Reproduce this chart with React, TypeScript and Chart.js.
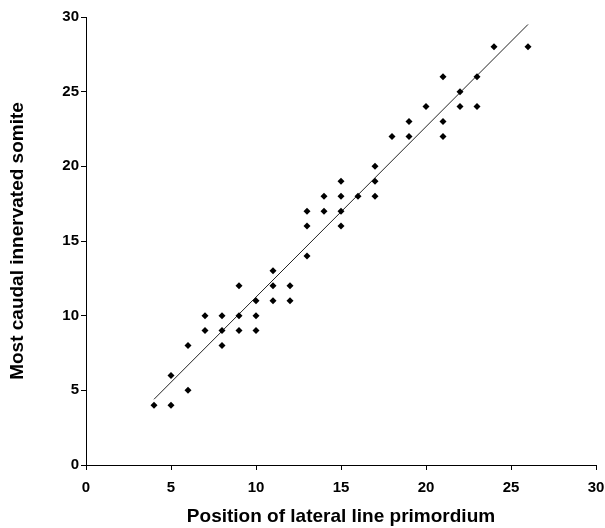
import React, { useEffect, useRef } from "react";
import { Chart, registerables } from "chart.js";

Chart.register(...registerables);

const xValues = [4, 5, 5, 6, 6, 7, 7, 8, 8, 8, 9, 9, 9, 10, 10, 10, 11, 11, 11, 12, 12, 13, 13, 13, 14, 14, 15, 15, 15, 15, 16, 17, 17, 17, 18, 19, 19, 20, 21, 21, 21, 22, 22, 23, 23, 24, 26];
const yValues = [4, 4, 6, 5, 8, 9, 10, 9, 10, 8, 12, 10, 9, 11, 10, 9, 13, 12, 11, 12, 11, 14, 16, 17, 17, 18, 19, 18, 17, 16, 18, 20, 19, 18, 22, 23, 22, 24, 26, 23, 22, 25, 24, 26, 24, 28, 28];
const fitX = [4, 26];
const fitY = [4.4, 29.5];
const xTitle = "Position of lateral line primordium";
const yTitle = "Most caudal innervated somite";

export default function App() {
  const ref = useRef<HTMLCanvasElement | null>(null);
  useEffect(() => {
    if (!ref.current) return;
    const font = "'Liberation Sans', Arial, sans-serif";
    const chart = new Chart(ref.current, {
      type: "scatter",
      data: {
        datasets: [
          {
            label: "points",
            data: xValues.map((x, i) => ({ x, y: yValues[i] })),
            pointStyle: "rectRot",
            pointRadius: 3.5,
            backgroundColor: "#000",
            borderColor: "#000",
            borderWidth: 0,
            showLine: false,
          },
          {
            label: "fit",
            data: fitX.map((x, i) => ({ x, y: fitY[i] })),
            showLine: true,
            pointRadius: 0,
            borderColor: "#222",
            borderWidth: 1,
          },
        ],
      },
      options: {
        animation: false,
        responsive: false,
        maintainAspectRatio: false,
        plugins: { legend: { display: false }, tooltip: { enabled: false } },
        layout: { padding: { left: 0, top: 17, right: 9, bottom: 0 } },
        scales: {
          x: {
            type: "linear",
            min: 0,
            max: 30,
            ticks: { stepSize: 5, color: "#000", font: { family: font, size: 15, weight: "bold" }, padding: 9 },
            grid: { display: true, drawOnChartArea: false, drawTicks: true, tickLength: 5, color: "#000" },
            border: { display: true, color: "#000", width: 1 },
            title: { display: true, text: xTitle, color: "#000", font: { family: font, size: 19, weight: "bold" }, padding: { top: 0, bottom: 0 } },
            afterFit: (s: any) => { s.height = 63; s.paddingRight = 0; s.paddingLeft = 0; },
          },
          y: {
            type: "linear",
            min: 0,
            max: 30,
            ticks: { stepSize: 5, color: "#000", font: { family: font, size: 15, weight: "bold" }, padding: 2 },
            grid: { display: true, drawOnChartArea: false, drawTicks: true, tickLength: 5, color: "#000" },
            border: { display: true, color: "#000", width: 1 },
            title: { display: true, text: yTitle, color: "#000", font: { family: font, size: 19, weight: "bold" }, padding: { top: 6, bottom: 0 } },
            afterFit: (s: any) => { s.width = 86; s.paddingTop = 0; s.paddingBottom = 0; },
          },
        },
      },
    });
    return () => chart.destroy();
  }, []);
  return (
    <div style={{ position: "fixed", left: 0, top: 0, width: 605, height: 528, background: "#fff" }}>
      <canvas ref={ref} width={605} height={528} style={{ width: 605, height: 528 }} />
    </div>
  );
}
